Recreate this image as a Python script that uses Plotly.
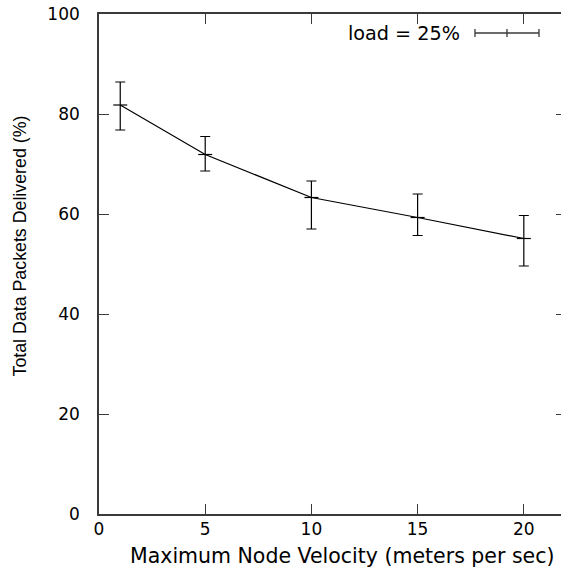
import plotly.graph_objects as go

# Data
velocity = [1, 5, 10, 15, 20]
delivered = [81.8, 71.9, 63.3, 59.3, 55.1]
err_plus = [4.6, 3.6, 3.3, 4.7, 4.6]
err_minus = [5.0, 3.3, 6.3, 3.6, 5.5]
x_ticks = [0, 5, 10, 15, 20]
y_ticks = [0, 20, 40, 60, 80, 100]
legend_label = "load = 25%"
x_title = "Maximum Node Velocity (meters per sec)"
y_title = "Total Data Packets Delivered (%)"

WIDE = "DejaVu Sans, Verdana, sans-serif"
NARROW = "Liberation Sans, Arial, Helvetica, sans-serif"
AX = "#3a3a3a"

fig = go.Figure()
fig.add_trace(go.Scatter(
    x=velocity, y=delivered, mode="lines+markers",
    line=dict(color="black", width=1.2),
    marker=dict(symbol="line-ew-open", size=10, color="black",
                line=dict(width=1.2, color="black")),
    error_y=dict(type="data", symmetric=False, array=err_plus,
                 arrayminus=err_minus, color="black", thickness=1.2, width=5),
    showlegend=False, hoverinfo="skip"))
fig.add_trace(go.Scatter(x=velocity, y=delivered, yaxis="y2", mode="none",
                         showlegend=False, hoverinfo="skip"))

fig.update_layout(
    width=561, height=571,
    margin=dict(l=99, r=0, t=14, b=57),
    paper_bgcolor="white", plot_bgcolor="white",
    font=dict(family=WIDE, size=17, color="black"),
    xaxis=dict(range=[0, 21.75], tickvals=x_ticks, ticks="inside", ticklen=10,
               tickwidth=1.3, tickcolor=AX, showline=True, linecolor=AX,
               linewidth=1.6, mirror="ticks", showgrid=False, zeroline=False,
               ticklabelstandoff=-1, tickfont=dict(family=WIDE, size=17)),
    yaxis=dict(range=[0, 100], tickvals=y_ticks, ticks="inside", ticklen=10,
               tickwidth=1.3, tickcolor=AX, showline=True, linecolor=AX,
               linewidth=1.6, showgrid=False, zeroline=False,
               ticklabelstandoff=14, tickfont=dict(family=WIDE, size=17)),
    yaxis2=dict(range=[0, 100], tickvals=y_ticks, overlaying="y", side="right",
                ticks="inside", ticklen=5, tickwidth=1.3, tickcolor=AX,
                showticklabels=False, showline=False, showgrid=False,
                zeroline=False),
    showlegend=False,
)

# Axis titles
fig.add_annotation(text=x_title, xref="paper", yref="paper",
                   x=0.526, y=0, yshift=-42, showarrow=False,
                   xanchor="center", yanchor="middle",
                   font=dict(family=WIDE, size=20.5))
fig.add_annotation(text=y_title, xref="paper", yref="paper",
                   x=0, xshift=-79, y=0.535, showarrow=False, textangle=-90,
                   xanchor="center", yanchor="middle",
                   font=dict(family=NARROW, size=17.8))

# Legend entry (text + error-bar sample)
fig.add_annotation(text=legend_label, xref="paper", yref="paper",
                   x=(462 - 99) / 462, y=(514 - 33) / 500, showarrow=False,
                   xanchor="right", yanchor="middle",
                   font=dict(family=WIDE, size=19.2))
lx0, lx1, lxm = (475 - 99) / 462, (539 - 99) / 462, (507 - 99) / 462
ly = (514 - 33) / 500
cap = 4 / 500
lc = dict(color=AX, width=1.3)
fig.add_shape(type="line", xref="paper", yref="paper", x0=lx0, x1=lx1, y0=ly, y1=ly, line=lc)
fig.add_shape(type="line", xref="paper", yref="paper", x0=lx0, x1=lx0, y0=ly - cap, y1=ly + cap, line=lc)
fig.add_shape(type="line", xref="paper", yref="paper", x0=lx1, x1=lx1, y0=ly - cap, y1=ly + cap, line=lc)
fig.add_shape(type="line", xref="paper", yref="paper", x0=lxm, x1=lxm, y0=ly - cap, y1=ly + cap, line=lc)

fig.write_html("out.html")
